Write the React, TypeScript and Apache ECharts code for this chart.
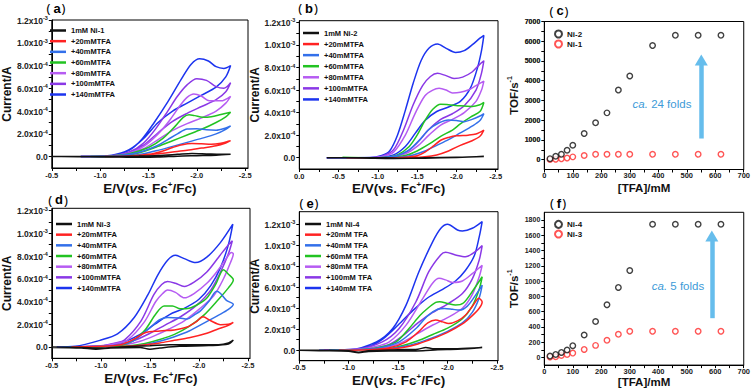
import React, { useEffect, useRef } from 'react';
import * as echarts from 'echarts';

type P = [number, number];

// ---------- Panel (a): Ni-1, E / V, current in 1e-3 A ----------
const aNi1: P[] = [[-0.5,0],[-0.8,0],[-1.0,0.0],[-1.2,0.002],[-1.4,0.005],[-1.6,0.01],[-1.8,0.02],[-1.95,0.028],[-2.1,0.024],[-2.25,0.02],[-2.35,0.02],[-2.2,0.012],[-2.0,0.008],[-1.8,0.004],[-1.6,-0.004],[-1.4,-0.006],[-1.2,-0.004],[-0.9,-0.002],[-0.6,0]];
const a20: P[] = [[-1.05,0],[-1.3,0.005],[-1.5,0.02],[-1.65,0.05],[-1.75,0.08],[-1.85,0.105],[-1.95,0.115],[-2.05,0.112],[-2.15,0.108],[-2.25,0.118],[-2.35,0.14],[-2.3,0.12],[-2.2,0.095],[-2.05,0.075],[-1.9,0.055],[-1.75,0.04],[-1.6,0.025],[-1.45,0.012],[-1.3,0.004],[-1.1,0]];
const a40: P[] = [[-0.8,0],[-1.1,0.003],[-1.3,0.02],[-1.45,0.05],[-1.6,0.1],[-1.7,0.15],[-1.8,0.2],[-1.9,0.243],[-2.0,0.245],[-2.1,0.235],[-2.2,0.232],[-2.3,0.252],[-2.35,0.27],[-2.3,0.24],[-2.2,0.2],[-2.05,0.16],[-1.9,0.125],[-1.75,0.09],[-1.6,0.055],[-1.45,0.025],[-1.3,0.008],[-1.1,0]];
const a60: P[] = [[-0.9,0],[-1.1,0.004],[-1.3,0.025],[-1.5,0.08],[-1.65,0.16],[-1.78,0.27],[-1.86,0.345],[-1.92,0.368],[-1.98,0.36],[-2.06,0.345],[-2.15,0.35],[-2.25,0.37],[-2.35,0.39],[-2.3,0.35],[-2.2,0.3],[-2.05,0.24],[-1.9,0.19],[-1.75,0.14],[-1.6,0.09],[-1.45,0.045],[-1.3,0.015],[-1.1,0.002]];
const a80: P[] = [[-0.8,0],[-1.1,0.005],[-1.3,0.03],[-1.45,0.09],[-1.6,0.2],[-1.72,0.32],[-1.82,0.44],[-1.9,0.52],[-1.97,0.55],[-2.05,0.53],[-2.13,0.49],[-2.25,0.49],[-2.35,0.53],[-2.3,0.47],[-2.2,0.4],[-2.05,0.34],[-1.9,0.29],[-1.75,0.23],[-1.6,0.15],[-1.45,0.07],[-1.3,0.025],[-1.1,0.003]];
const a100: P[] = [[-0.8,0],[-1.1,0.006],[-1.3,0.04],[-1.45,0.12],[-1.58,0.25],[-1.7,0.4],[-1.8,0.53],[-1.9,0.63],[-2.0,0.685],[-2.1,0.67],[-2.2,0.615],[-2.28,0.6],[-2.35,0.65],[-2.3,0.57],[-2.2,0.5],[-2.05,0.44],[-1.9,0.38],[-1.75,0.31],[-1.6,0.21],[-1.45,0.1],[-1.3,0.035],[-1.1,0.004]];
const a140: P[] = [[-0.8,0],[-1.1,0.01],[-1.3,0.055],[-1.43,0.15],[-1.56,0.3],[-1.7,0.48],[-1.84,0.68],[-1.94,0.81],[-2.03,0.86],[-2.12,0.84],[-2.2,0.79],[-2.28,0.775],[-2.35,0.8],[-2.3,0.7],[-2.2,0.61],[-2.05,0.54],[-1.9,0.47],[-1.75,0.4],[-1.6,0.3],[-1.45,0.16],[-1.3,0.06],[-1.1,0.008],[-0.9,0]];

// ---------- Panel (b): Ni-2 ----------
const bNi2: P[] = [[-0.35,0],[-0.8,0],[-1.1,0.0],[-1.3,-0.004],[-1.6,0.0],[-2.0,0.005],[-2.35,0.01],[-2.0,0.003],[-1.6,-0.004],[-1.2,-0.006],[-0.8,-0.002],[-0.4,0]];
const b20: P[] = [[-0.6,0],[-1.0,0],[-1.3,0.003],[-1.5,0.018],[-1.6,0.05],[-1.7,0.1],[-1.8,0.155],[-1.9,0.18],[-2.0,0.195],[-2.15,0.2],[-2.25,0.21],[-2.35,0.245],[-2.3,0.19],[-2.2,0.15],[-2.05,0.11],[-1.9,0.06],[-1.75,0.025],[-1.6,0.008],[-1.4,0],[-1.1,0]];
const b40: P[] = [[-0.35,0],[-0.9,0],[-1.1,0.005],[-1.25,0.02],[-1.4,0.07],[-1.52,0.15],[-1.65,0.25],[-1.78,0.31],[-1.9,0.335],[-2.0,0.33],[-2.1,0.32],[-2.2,0.34],[-2.3,0.37],[-2.35,0.39],[-2.3,0.33],[-2.2,0.28],[-2.05,0.22],[-1.9,0.16],[-1.75,0.11],[-1.6,0.06],[-1.45,0.025],[-1.3,0.007],[-1.1,0]];
const b60: P[] = [[-0.55,0.004],[-0.9,0],[-1.1,0.005],[-1.25,0.025],[-1.4,0.1],[-1.5,0.2],[-1.6,0.33],[-1.7,0.43],[-1.8,0.475],[-1.9,0.47],[-2.05,0.46],[-2.2,0.455],[-2.3,0.47],[-2.35,0.49],[-2.3,0.41],[-2.18,0.36],[-2.05,0.3],[-1.95,0.245],[-1.8,0.19],[-1.65,0.12],[-1.5,0.06],[-1.35,0.02],[-1.15,0.003]];
const b80: P[] = [[-0.35,0],[-0.9,0],[-1.05,0.01],[-1.2,0.05],[-1.35,0.2],[-1.48,0.4],[-1.6,0.55],[-1.7,0.6],[-1.78,0.615],[-1.87,0.6],[-1.95,0.575],[-2.05,0.58],[-2.15,0.6],[-2.25,0.64],[-2.35,0.68],[-2.32,0.6],[-2.25,0.5],[-2.1,0.4],[-1.95,0.34],[-1.8,0.29],[-1.65,0.2],[-1.5,0.1],[-1.35,0.035],[-1.15,0.005]];
const b100: P[] = [[-0.35,0],[-0.9,0],[-1.05,0.012],[-1.2,0.07],[-1.33,0.25],[-1.45,0.47],[-1.57,0.64],[-1.67,0.72],[-1.76,0.748],[-1.86,0.73],[-1.97,0.703],[-2.08,0.715],[-2.2,0.76],[-2.3,0.83],[-2.35,0.86],[-2.32,0.75],[-2.25,0.6],[-2.1,0.46],[-1.95,0.39],[-1.8,0.34],[-1.65,0.25],[-1.5,0.13],[-1.35,0.045],[-1.15,0.006]];
const b140: P[] = [[-0.35,0],[-0.9,0.002],[-1.05,0.02],[-1.15,0.06],[-1.25,0.2],[-1.35,0.42],[-1.45,0.66],[-1.55,0.86],[-1.65,0.97],[-1.76,1.008],[-1.87,0.97],[-1.99,0.934],[-2.1,0.95],[-2.2,1.0],[-2.3,1.06],[-2.35,1.085],[-2.32,0.95],[-2.27,0.8],[-2.18,0.62],[-2.05,0.5],[-1.9,0.45],[-1.75,0.41],[-1.6,0.33],[-1.48,0.22],[-1.35,0.1],[-1.2,0.025],[-1.0,0.003]];

// ---------- Panel (d): Ni-3 ----------
const dNi3: P[] = [[-0.5,0],[-0.8,-0.005],[-1.0,-0.01],[-1.2,0.0],[-1.5,0.01],[-1.7,0.02],[-2.0,0.02],[-2.2,0.02],[-2.3,0.035],[-2.35,0.06],[-2.3,0.025],[-2.1,0.012],[-1.8,0.005],[-1.6,-0.01],[-1.5,-0.02],[-1.4,-0.005],[-1.1,-0.01],[-0.95,-0.02],[-0.8,-0.01],[-0.5,-0.005]];
const d20: P[] = [[-0.7,0],[-1.0,0.005],[-1.2,0.02],[-1.34,0.07],[-1.45,0.125],[-1.6,0.14],[-1.75,0.15],[-1.88,0.175],[-1.97,0.22],[-2.04,0.265],[-2.12,0.23],[-2.22,0.196],[-2.3,0.2],[-2.35,0.216],[-2.3,0.19],[-2.2,0.16],[-2.08,0.12],[-1.9,0.08],[-1.75,0.058],[-1.6,0.035],[-1.5,0.023],[-1.35,0.01],[-1.2,0.003]];
const d40: P[] = [[-0.6,0],[-1.0,0.005],[-1.2,0.02],[-1.34,0.058],[-1.5,0.17],[-1.6,0.24],[-1.68,0.259],[-1.8,0.255],[-1.88,0.245],[-1.95,0.28],[-2.015,0.317],[-2.1,0.4],[-2.18,0.49],[-2.22,0.47],[-2.28,0.41],[-2.35,0.375],[-2.3,0.33],[-2.2,0.28],[-2.05,0.21],[-1.9,0.14],[-1.75,0.09],[-1.6,0.05],[-1.45,0.02],[-1.3,0.005]];
const d60: P[] = [[-0.8,0],[-1.1,0.005],[-1.3,0.04],[-1.45,0.15],[-1.56,0.29],[-1.645,0.36],[-1.73,0.36],[-1.81,0.335],[-1.9,0.34],[-2.0,0.38],[-2.08,0.43],[-2.17,0.55],[-2.25,0.68],[-2.3,0.64],[-2.35,0.59],[-2.3,0.52],[-2.2,0.42],[-2.05,0.28],[-1.9,0.18],[-1.75,0.11],[-1.6,0.065],[-1.45,0.03],[-1.3,0.01],[-1.1,0]];
const d80: P[] = [[-0.7,0],[-1.0,0.008],[-1.15,0.03],[-1.27,0.06],[-1.44,0.216],[-1.56,0.4],[-1.63,0.47],[-1.68,0.5],[-1.76,0.48],[-1.85,0.432],[-1.95,0.47],[-2.08,0.56],[-2.18,0.66],[-2.28,0.78],[-2.33,0.83],[-2.35,0.82],[-2.32,0.74],[-2.25,0.6],[-2.15,0.45],[-2.0,0.33],[-1.85,0.23],[-1.7,0.16],[-1.55,0.1],[-1.4,0.05],[-1.25,0.02],[-1.05,0.003]];
const d100: P[] = [[-0.7,0],[-1.0,0.01],[-1.15,0.035],[-1.24,0.06],[-1.41,0.23],[-1.54,0.46],[-1.62,0.55],[-1.68,0.576],[-1.76,0.56],[-1.85,0.532],[-1.95,0.57],[-2.08,0.66],[-2.2,0.79],[-2.3,0.9],[-2.34,0.935],[-2.3,0.82],[-2.22,0.66],[-2.12,0.5],[-1.98,0.37],[-1.82,0.27],[-1.65,0.19],[-1.5,0.12],[-1.35,0.06],[-1.2,0.025],[-1.0,0.003]];
const d140: P[] = [[-0.55,0],[-0.74,0.006],[-0.99,0.058],[-1.17,0.115],[-1.34,0.259],[-1.48,0.46],[-1.58,0.633],[-1.68,0.763],[-1.76,0.806],[-1.85,0.777],[-1.965,0.742],[-2.08,0.79],[-2.22,0.92],[-2.345,1.08],[-2.3,0.9],[-2.22,0.7],[-2.12,0.54],[-2.0,0.42],[-1.85,0.34],[-1.7,0.285],[-1.55,0.2],[-1.4,0.11],[-1.25,0.05],[-1.05,0.012],[-0.8,0]];

// ---------- Panel (e): Ni-4 ----------
const eNi4: P[] = [[-0.5,0],[-0.8,0],[-1.0,-0.005],[-1.1,-0.02],[-1.2,-0.005],[-1.5,0.005],[-1.7,0.01],[-1.78,0.025],[-1.85,0.015],[-2.1,0.015],[-2.35,0.025],[-2.1,0.008],[-1.9,0.005],[-1.75,-0.005],[-1.5,-0.008],[-1.2,-0.012],[-1.1,-0.025],[-1.0,-0.01],[-0.7,-0.005],[-0.5,0]];
const e20: P[] = [[-0.9,0],[-1.2,0.005],[-1.4,0.02],[-1.58,0.08],[-1.7,0.17],[-1.8,0.26],[-1.88,0.287],[-1.95,0.27],[-2.01,0.255],[-2.1,0.28],[-2.18,0.334],[-2.26,0.43],[-2.316,0.494],[-2.35,0.46],[-2.32,0.4],[-2.25,0.33],[-2.15,0.25],[-2.0,0.17],[-1.85,0.11],[-1.7,0.06],[-1.55,0.025],[-1.4,0.008],[-1.2,0]];
const e40: P[] = [[-0.8,0],[-1.1,0.005],[-1.3,0.02],[-1.51,0.08],[-1.68,0.207],[-1.8,0.33],[-1.9,0.39],[-1.97,0.398],[-2.05,0.39],[-2.12,0.382],[-2.2,0.42],[-2.28,0.52],[-2.35,0.62],[-2.32,0.5],[-2.25,0.36],[-2.15,0.26],[-2.0,0.18],[-1.85,0.12],[-1.7,0.07],[-1.55,0.035],[-1.4,0.012],[-1.2,0.002]];
const e60: P[] = [[-0.8,0],[-1.1,0.005],[-1.3,0.025],[-1.48,0.08],[-1.61,0.207],[-1.72,0.33],[-1.8,0.4],[-1.88,0.455],[-1.92,0.462],[-2.0,0.445],[-2.08,0.43],[-2.16,0.45],[-2.25,0.56],[-2.35,0.7],[-2.32,0.58],[-2.25,0.42],[-2.15,0.3],[-2.0,0.21],[-1.85,0.15],[-1.7,0.09],[-1.55,0.045],[-1.4,0.015],[-1.2,0.003]];
const e80: P[] = [[-0.75,0],[-1.1,0.008],[-1.25,0.03],[-1.41,0.08],[-1.58,0.239],[-1.75,0.494],[-1.85,0.64],[-1.914,0.685],[-1.98,0.67],[-2.05,0.646],[-2.15,0.66],[-2.25,0.73],[-2.35,0.81],[-2.32,0.7],[-2.25,0.53],[-2.15,0.4],[-2.0,0.31],[-1.85,0.24],[-1.7,0.16],[-1.55,0.08],[-1.4,0.03],[-1.2,0.005]];
const e100: P[] = [[-0.75,0],[-1.08,0.01],[-1.34,0.08],[-1.51,0.207],[-1.68,0.462],[-1.81,0.748],[-1.93,0.908],[-1.98,0.933],[-2.08,0.908],[-2.18,0.89],[-2.28,0.94],[-2.35,0.997],[-2.32,0.86],[-2.25,0.68],[-2.15,0.54],[-2.0,0.44],[-1.85,0.36],[-1.7,0.26],[-1.55,0.14],[-1.4,0.05],[-1.2,0.01]];
const e140: P[] = [[-0.7,0],[-1.01,0.006],[-1.28,0.08],[-1.445,0.207],[-1.58,0.43],[-1.71,0.748],[-1.85,1.035],[-1.93,1.16],[-2.0,1.2],[-2.1,1.146],[-2.15,1.137],[-2.25,1.162],[-2.35,1.226],[-2.32,1.08],[-2.27,0.9],[-2.18,0.76],[-2.08,0.66],[-1.95,0.58],[-1.8,0.5],[-1.65,0.38],[-1.5,0.24],[-1.35,0.11],[-1.2,0.03],[-1.0,0.003]];

// ---------- Panels (c) and (f): TOF vs [TFA] ----------
const tfa = [20, 40, 60, 80, 100, 140, 180, 220, 260, 300, 380, 460, 540, 620];
const cNi2 = [50, 170, 270, 475, 730, 1320, 1865, 2370, 3525, 4240, 5780, 6300, 6300, 6300];
const cNi1 = [10, 20, 40, 80, 140, 210, 270, 270, 270, 270, 270, 270, 270, 270];
const fNi4 = [18, 40, 66, 97, 154, 294, 470, 689, 917, 1137, 1743, 1743, 1743, 1743];
const fNi3 = [5, 10, 26, 40, 57, 105, 158, 224, 303, 342, 342, 342, 342, 342];
const cArrow = [551, 1070, 5050]; // x, from, to (data units)
const fArrow = [588, 514, 1590];

// ---------- tick values ----------
const cvXLabelsA = [-0.5, -1.0, -1.5, -2.0, -2.5];
const cvXTicksA = [-0.5, -0.75, -1.0, -1.25, -1.5, -1.75, -2.0, -2.25, -2.5];
const cvXLabelsB = [0, -0.5, -1.0, -1.5, -2.0, -2.5];
const cvXTicksB = [0, -0.25, -0.5, -0.75, -1.0, -1.25, -1.5, -1.75, -2.0, -2.25, -2.5];
const cvYLabels = [0, 0.2, 0.4, 0.6, 0.8, 1.0, 1.2];
const cvYTicks = [0, 0.1, 0.2, 0.3, 0.4, 0.5, 0.6, 0.7, 0.8, 0.9, 1.0, 1.1, 1.2];
const tofXLabels = [0, 100, 200, 300, 400, 500, 600, 700];
const tofXTicks = [0, 50, 100, 150, 200, 250, 300, 350, 400, 450, 500, 550, 600, 650, 700];
const cYLabels = [0, 1000, 2000, 3000, 4000, 5000, 6000, 7000];
const cYTicks = [0, 500, 1000, 1500, 2000, 2500, 3000, 3500, 4000, 4500, 5000, 5500, 6000, 6500, 7000];
const fYLabels = [0, 200, 400, 600, 800, 1000, 1200, 1400, 1600, 1800];
const fYTicks = [0, 100, 200, 300, 400, 500, 600, 700, 800, 900, 1000, 1100, 1200, 1300, 1400, 1500, 1600, 1700, 1800];

const aNames = ['1mM Ni-1', '+20mMTFA', '+40mMTFA', '+60mMTFA', '+80mMTFA', '+100mMTFA', '+140mMTFA'];
const bNames = ['1mM Ni-2', '+20mMTFA', '+40mMTFA', '+60mMTFA', '+80mMTFA', '+100mMTFA', '+140mMTFA'];
const dNames = ['1mM Ni-3', '+20mMTFA', '+40mMTFA', '+60mMTFA', '+80mMTFA', '+100mMTFA', '+140mMTFA'];
const eNames = ['1mM Ni-4', '+20mM TFA', '+40mM TFA', '+60mM TFA', '+80mM TFA', '+100mM TFA', '+140mM TFA'];

const COLORS = ['#111111', '#ff2222', '#3370ea', '#22c322', '#b65cf2', '#8a38e6', '#1c34ef'];
const FF = '"Liberation Sans", Arial, sans-serif';
const ARROW = '#66bdec';
const NOTE = '#3d9bd8';

function cvYLabel(v: number) {
  if (v === 0) return '{m|0.0}';
  if (v >= 1) return `{m|${v.toFixed(1)}x10}{s|-3}`;
  return `{m|${(v * 10).toFixed(1)}x10}{s|-4}`;
}

const tickLabelRich = {
  m: { fontSize: 8.5, fontWeight: 'bold', fontFamily: FF, color: '#222', lineHeight: 10, verticalAlign: 'bottom' },
  s: { fontSize: 5.5, fontWeight: 'bold', fontFamily: FF, color: '#222', lineHeight: 5, verticalAlign: 'top' },
};
const nameRich = {
  b: { fontSize: 13.5, fontWeight: 'bold', fontFamily: FF, color: '#111', lineHeight: 15, verticalAlign: 'bottom' },
  i: { fontSize: 13.5, fontWeight: 'bold', fontStyle: 'italic', fontFamily: FF, color: '#111', lineHeight: 15, verticalAlign: 'bottom' },
  s: { fontSize: 8, fontWeight: 'bold', fontFamily: FF, color: '#111', lineHeight: 8, verticalAlign: 'top' },
};
const tofNameRich = {
  b: { fontSize: 11.5, fontWeight: 'bold', fontFamily: FF, color: '#111', lineHeight: 14, verticalAlign: 'bottom' },
  s: { fontSize: 7, fontWeight: 'bold', fontFamily: FF, color: '#111', lineHeight: 7, verticalAlign: 'top' },
};
const TOF_LABEL = { fontSize: 7, fontWeight: 'bold', fontFamily: FF, color: '#222' };

function cvX(gi: number, min: number, max: number, labels: number[], ticks: number[], name: string, gap: number) {
  return {
    gridIndex: gi, type: 'value', inverse: true, min, max, position: 'bottom',
    axisLine: { show: true, onZero: false, lineStyle: { color: '#000', width: 1 } },
    axisTick: { show: true, inside: false, length: 3, customValues: ticks, lineStyle: { color: '#000', width: 1 } },
    axisLabel: { customValues: labels, interval: 0, margin: 3, fontSize: 7.5, fontWeight: 'bold', fontFamily: FF, color: '#222', formatter: (v: number) => (v === 0 ? '0.0' : v.toFixed(1)) },
    splitLine: { show: false },
    name, nameLocation: 'middle', nameGap: gap, nameTextStyle: { rich: nameRich },
  };
}
function cvY(gi: number, min: number, max: number, gap: number) {
  return {
    gridIndex: gi, type: 'value', min, max, position: 'left',
    axisLine: { show: true, onZero: false, lineStyle: { color: '#000', width: 1 } },
    axisTick: { show: true, inside: false, length: 3, customValues: cvYTicks, lineStyle: { color: '#000', width: 1 } },
    axisLabel: { customValues: cvYLabels, interval: 0, margin: 4, formatter: cvYLabel, rich: tickLabelRich },
    splitLine: { show: false },
    name: 'Current/A', nameLocation: 'middle', nameGap: gap,
    nameTextStyle: { fontSize: 12, fontWeight: 'bold', fontFamily: FF, color: '#111' },
  };
}
function tofX(gi: number, gap: number) {
  return {
    gridIndex: gi, type: 'value', min: 0, max: 700, position: 'bottom',
    axisLine: { show: true, onZero: false, lineStyle: { color: '#000', width: 1 } },
    axisTick: { show: true, inside: false, length: 3, customValues: tofXTicks, lineStyle: { color: '#000' } },
    axisLabel: { customValues: tofXLabels, interval: 0, margin: 2, fontSize: 7.5, lineHeight: 8, fontWeight: 'bold', fontFamily: FF, color: '#222', formatter: (v: number) => String(v) },
    splitLine: { show: false },
    name: '[TFA]/mM', nameLocation: 'middle', nameGap: gap,
    nameTextStyle: { fontSize: 11.5, lineHeight: 12, fontWeight: 'bold', fontFamily: FF, color: '#111' },
  };
}
function tofY(gi: number, min: number, max: number, labels: number[], ticks: number[], gap: number) {
  return {
    gridIndex: gi, type: 'value', min, max, position: 'left',
    axisLine: { show: true, onZero: false, lineStyle: { color: '#000', width: 1 } },
    axisTick: { show: true, inside: false, length: 3, customValues: ticks, lineStyle: { color: '#000' } },
    axisLabel: { show: true, customValues: labels, interval: 0, margin: 4, ...TOF_LABEL, formatter: (v: number) => String(v) },
    splitLine: { show: false },
    name: '{b|TOF/s}{s|-1}', nameLocation: 'middle', nameGap: gap,
    nameTextStyle: { rich: tofNameRich },
  };
}

function cvSeries(gi: number, names: string[], curves: P[][]) {
  const out: any[] = [];
  for (let k = curves.length - 1; k >= 0; k--) {
    out.push({
      type: 'line', name: names[k], data: curves[k], xAxisIndex: gi, yAxisIndex: gi,
      color: COLORS[k], showSymbol: false, symbol: 'none', smooth: 0.3, silent: true,
      lineStyle: { color: COLORS[k], width: 1.5 },
    });
  }
  return out;
}

function cvLegend(names: string[], left: number, top: number, gap: number) {
  return {
    data: names, orient: 'vertical', left, top, padding: 0, itemGap: gap, itemWidth: 16, itemHeight: 2.5,
    icon: 'rect', selectedMode: false,
    textStyle: { fontSize: 7.5, fontWeight: 'bold', fontFamily: FF, color: '#111', lineHeight: 10 },
  };
}

function tofSeries(gi: number, name: string, ys: number[], color: string, arrow?: number[]) {
  const s: any = {
    type: 'scatter', name, xAxisIndex: gi, yAxisIndex: gi, symbol: 'circle', symbolSize: 5.5, silent: true,
    data: tfa.map((x, i) => [x, ys[i]]), color,
    itemStyle: { color: '#fff', borderColor: color, borderWidth: 1.4 },
  };
  if (arrow) {
    s.markLine = {
      silent: true, symbol: ['none', 'triangle'], symbolSize: [13, 11], label: { show: false },
      lineStyle: { color: ARROW, width: 4.5, type: 'solid' }, itemStyle: { color: ARROW },
      data: [[{ coord: [arrow[0], arrow[1]] }, { coord: [arrow[0], arrow[2]] }]],
    };
  }
  return s;
}

function panelLabel(letter: string, x: number, y: number) {
  return {
    type: 'text', x, y, z: 10,
    style: {
      text: `{p|(}{l|${letter}}{q|)}`, align: 'center', verticalAlign: 'middle', fill: '#000',
      rich: {
        p: { fontSize: 13, fontFamily: '"Noto Sans"', fill: '#000', lineHeight: 12, padding: [0, 3, 0, 0] },
        l: { fontSize: 13, fontWeight: 'bold', fontFamily: FF, fill: '#000', lineHeight: 12 },
        q: { fontSize: 13, fontFamily: '"Noto Sans"', fill: '#000', lineHeight: 12, padding: [0, 0, 0, 1] },
      },
    },
  };
}
function note(txt: string, x: number, y: number) {
  return {
    type: 'text', x, y, z: 10,
    style: {
      text: `{i|ca.}{n| ${txt}}`, align: 'center', verticalAlign: 'middle', fill: NOTE,
      rich: {
        i: { fontSize: 11.5, fontStyle: 'italic', fontFamily: FF, fill: NOTE },
        n: { fontSize: 11.5, fontFamily: FF, fill: NOTE },
      },
    },
  };
}

const C_LEFT = 544.3, C_TOP = 21.5, C_H = 148, C_MIN = -500, C_MAX = 7000;

export default function App() {
  const ref = useRef<HTMLDivElement>(null);
  useEffect(() => {
    document.body.style.margin = '0';
    if (!ref.current) return;
    const chart = echarts.init(ref.current, undefined, { renderer: 'svg' });
    const xNameItal = '{b|E/V(}{i|vs.}{b| Fc}{s|+}{b|/Fc)}';
    const xNamePlain = '{b|E/V(vs. Fc}{s|+}{b|/Fc)}';
    const gridStyle = { show: true, borderColor: '#000', borderWidth: 1, containLabel: false };
    const option: any = {
      animation: false,
      backgroundColor: '#ffffff',
      grid: [
        { ...gridStyle, left: 49, top: 20, width: 199, height: 148 },
        { ...gridStyle, left: 299.3, top: 20.7, width: 198.7, height: 148.3 },
        { ...gridStyle, left: C_LEFT, top: C_TOP, width: 200, height: C_H },
        { ...gridStyle, left: 49.5, top: 208.3, width: 200.5, height: 150 },
        { ...gridStyle, left: 299.3, top: 211.7, width: 198.7, height: 149 },
        { ...gridStyle, left: 544.3, top: 212.3, width: 200, height: 153.4 },
      ],
      xAxis: [
        cvX(0, -2.53, -0.5, cvXLabelsA, cvXTicksA, xNameItal, 12.5),
        cvX(1, -2.53, 0, cvXLabelsB, cvXTicksB, xNamePlain, 11.5),
        tofX(2, 12),
        cvX(3, -2.52, -0.5, cvXLabelsA, cvXTicksA, xNameItal, 12),
        cvX(4, -2.51, -0.5, cvXLabelsA, cvXTicksA, xNameItal, 11),
        tofX(5, 10),
      ],
      yAxis: [
        cvY(0, -0.1, 1.2, 34),
        cvY(1, -0.1, 1.215, 34),
        tofY(2, C_MIN, C_MAX, cYLabels, cYTicks, 24),
        cvY(3, -0.1, 1.22, 35),
        cvY(4, -0.1, 1.32, 35),
        tofY(5, -100, 1900, fYLabels, fYTicks, 24),
      ],
      legend: [
        cvLegend(aNames, 50, 25.5, 0.67),
        cvLegend(bNames, 303, 28, 1.07),
        cvLegend(dNames, 56, 219, 0.67),
        cvLegend(eNames, 305, 219, 0.67),
        {
          data: ['Ni-2', 'Ni-1'], orient: 'vertical', left: 554, top: 29, padding: 0, itemGap: 0, itemWidth: 7, itemHeight: 7,
          selectedMode: false, textStyle: { fontSize: 8, fontWeight: 'bold', fontFamily: FF, color: '#111', lineHeight: 10 },
        },
        {
          data: ['Ni-4', 'Ni-3'], orient: 'vertical', left: 554, top: 219.5, padding: 0, itemGap: 0, itemWidth: 7, itemHeight: 7,
          selectedMode: false, textStyle: { fontSize: 8, fontWeight: 'bold', fontFamily: FF, color: '#111', lineHeight: 9.7 },
        },
      ],
      series: [
        ...cvSeries(0, aNames, [aNi1, a20, a40, a60, a80, a100, a140]),
        ...cvSeries(1, bNames, [bNi2, b20, b40, b60, b80, b100, b140]),
        ...cvSeries(3, dNames, [dNi3, d20, d40, d60, d80, d100, d140]),
        ...cvSeries(4, eNames, [eNi4, e20, e40, e60, e80, e100, e140]),
        tofSeries(2, 'Ni-1', cNi1, '#ff2a2a'),
        tofSeries(2, 'Ni-2', cNi2, '#111111', cArrow),
        tofSeries(5, 'Ni-3', fNi3, '#ff2a2a'),
        tofSeries(5, 'Ni-4', fNi4, '#111111', fArrow),
        // tick labels of panel (c)'s y axis, placed by the axis scale at x = 0
        {
          type: 'scatter', name: 'cTicks', xAxisIndex: 2, yAxisIndex: 2, silent: true, z: 20,
          symbol: 'circle', symbolSize: 0.01, itemStyle: { color: 'rgba(0,0,0,0)' },
          data: cYLabels.map((v) => [0, v]),
          label: { show: true, position: 'left', distance: 4, ...TOF_LABEL, formatter: (p: any) => String(p.value[1]) },
          labelLayout: { hideOverlap: false },
        },
      ],
      graphic: {
        elements: [
          panelLabel('a', 56, 8),
          panelLabel('b', 308, 8),
          panelLabel('c', 559, 10.5),
          panelLabel('d', 58, 199.5),
          panelLabel('e', 309, 203),
          panelLabel('f', 558, 203),
          note('24 folds', 662, 104),
          note('5 folds', 678, 286),
        ],
      },
    };
    try {
      chart.setOption(option);
    } catch (e) {
      // keep whatever was drawn
    }
    return () => chart.dispose();
  }, []);
  return <div ref={ref} style={{ width: 753, height: 389 }} />;
}
